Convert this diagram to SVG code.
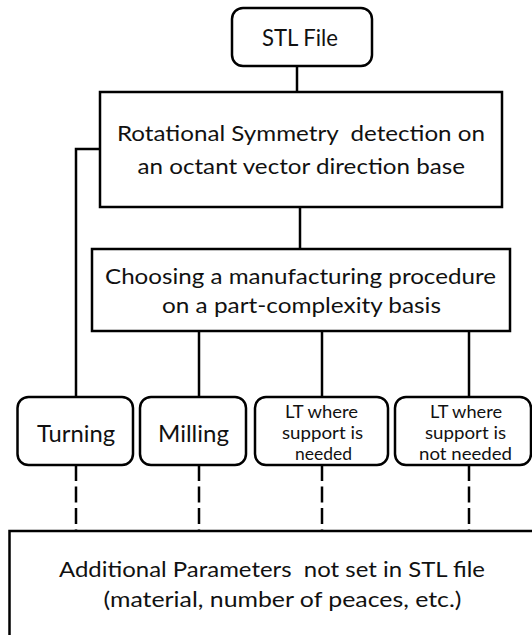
<svg xmlns="http://www.w3.org/2000/svg" width="532" height="635" viewBox="0 0 532 635">
<style>
  .box { fill: #ffffff; stroke: #000000; stroke-width: 2.5; }
  .ln { fill: none; stroke: #000000; stroke-width: 2.5; }
  .dash { fill: none; stroke: #000000; stroke-width: 2.5; stroke-dasharray: 16 5.5; }
  text { font-family: Lato, "Open Sans", "Liberation Sans", sans-serif; fill: #111111; white-space: pre; }
  .t { font-size: 21.5px; }
  .tb { font-size: 23px; }
  .ts { font-size: 18px; }
</style>
<rect width="532" height="635" fill="#ffffff"/>
<g id="connectors">
  <line class="ln" x1="297" y1="66" x2="297" y2="92"/>
  <polyline class="ln" points="100,149 76,149 76,397"/>
  <line class="ln" x1="300" y1="207" x2="300" y2="249"/>
  <line class="ln" x1="199" y1="331" x2="199" y2="397"/>
  <line class="ln" x1="322" y1="331" x2="322" y2="397"/>
  <line class="ln" x1="469" y1="331" x2="469" y2="397"/>
  <line class="dash" x1="76" y1="465" x2="76" y2="531"/>
  <line class="dash" x1="199" y1="465" x2="199" y2="531"/>
  <line class="dash" x1="322" y1="465" x2="322" y2="531"/>
  <line class="dash" x1="469" y1="465" x2="469" y2="531"/>
</g>
<g id="stl">
  <rect class="box" x="232" y="8" width="140" height="58" rx="11"/>
  <text class="tb" x="262" y="46" textLength="76" lengthAdjust="spacingAndGlyphs">STL File</text>
</g>
<g id="symmetry">
  <rect class="box" x="100" y="92" width="402" height="115"/>
  <text class="t" x="117" y="141" textLength="368" lengthAdjust="spacingAndGlyphs">Rotational Symmetry  detection on</text>
  <text class="t" x="137.5" y="174" textLength="327.5" lengthAdjust="spacingAndGlyphs">an octant vector direction base</text>
</g>
<g id="choosing">
  <rect class="box" x="92" y="249" width="418" height="82"/>
  <text class="t" x="105" y="284" textLength="391" lengthAdjust="spacingAndGlyphs">Choosing a manufacturing procedure</text>
  <text class="t" x="162" y="313" textLength="279" lengthAdjust="spacingAndGlyphs">on a part-complexity basis</text>
</g>
<g id="turning">
  <rect class="box" x="17.5" y="397" width="115.5" height="68" rx="11"/>
  <text class="tb" x="37" y="442" textLength="78" lengthAdjust="spacingAndGlyphs">Turning</text>
</g>
<g id="milling">
  <rect class="box" x="140" y="397" width="106" height="68" rx="11"/>
  <text class="tb" x="158" y="442" textLength="71" lengthAdjust="spacingAndGlyphs">Milling</text>
</g>
<g id="lt-needed">
  <rect class="box" x="255" y="397" width="133" height="68" rx="11"/>
  <text class="ts" x="285" y="418" textLength="73" lengthAdjust="spacingAndGlyphs">LT where</text>
  <text class="ts" x="282" y="439" textLength="81" lengthAdjust="spacingAndGlyphs">support is</text>
  <text class="ts" x="295" y="460" textLength="57" lengthAdjust="spacingAndGlyphs">needed</text>
</g>
<g id="lt-not-needed">
  <rect class="box" x="395" y="397" width="136" height="68" rx="11"/>
  <text class="ts" x="430" y="418" textLength="72" lengthAdjust="spacingAndGlyphs">LT where</text>
  <text class="ts" x="425" y="439" textLength="81" lengthAdjust="spacingAndGlyphs">support is</text>
  <text class="ts" x="419" y="460" textLength="93" lengthAdjust="spacingAndGlyphs">not needed</text>
</g>
<g id="parameters">
  <rect class="box" x="9.5" y="531" width="560" height="140"/>
  <text class="t" x="59" y="577" textLength="426" lengthAdjust="spacingAndGlyphs">Additional Parameters  not set in STL file</text>
  <text class="t" x="103.5" y="607" textLength="358" lengthAdjust="spacingAndGlyphs">(material, number of peaces, etc.)</text>
</g>
</svg>
